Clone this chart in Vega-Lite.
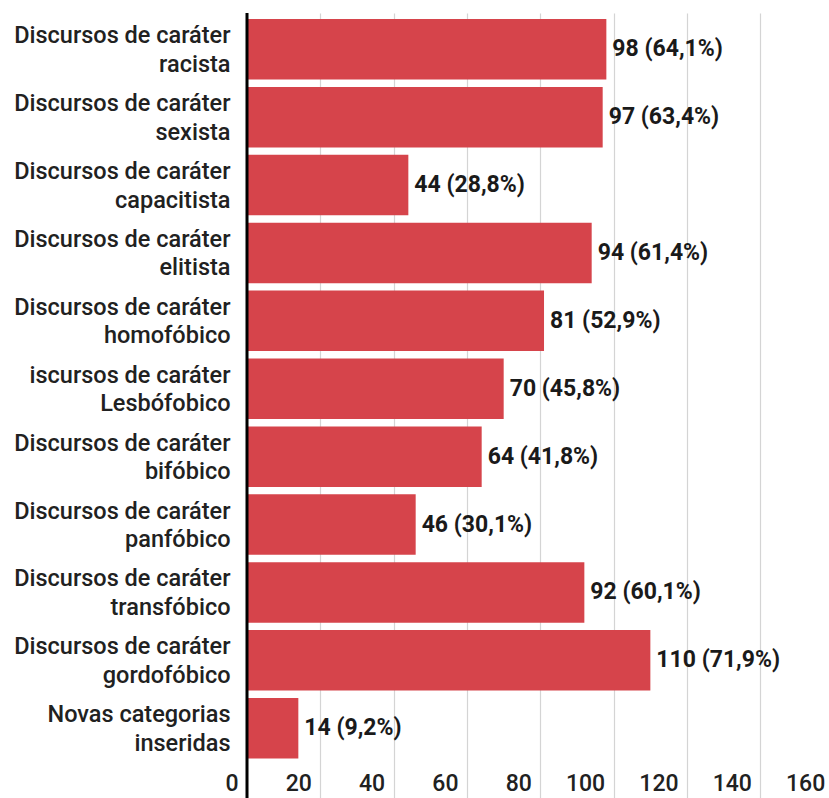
{
  "$schema": "https://vega.github.io/schema/vega-lite/v6.json",
  "autosize": "none",
  "width": 582,
  "height": 785,
  "padding": {"left": 247, "top": 13, "right": 0, "bottom": 0},
  "background": "white",
  "config": {
    "view": {"stroke": null},
    "font": "Roboto"
  },
  "data": {
    "values": [
      {"cat": "Discursos de caráter|racista", "n": 98, "pct": "64,1%"},
      {"cat": "Discursos de caráter|sexista", "n": 97, "pct": "63,4%"},
      {"cat": "Discursos de caráter|capacitista", "n": 44, "pct": "28,8%"},
      {"cat": "Discursos de caráter|elitista", "n": 94, "pct": "61,4%"},
      {"cat": "Discursos de caráter|homofóbico", "n": 81, "pct": "52,9%"},
      {"cat": "iscursos de caráter|Lesbófobico", "n": 70, "pct": "45,8%"},
      {"cat": "Discursos de caráter|bifóbico", "n": 64, "pct": "41,8%"},
      {"cat": "Discursos de caráter|panfóbico", "n": 46, "pct": "30,1%"},
      {"cat": "Discursos de caráter|transfóbico", "n": 92, "pct": "60,1%"},
      {"cat": "Discursos de caráter|gordofóbico", "n": 110, "pct": "71,9%"},
      {"cat": "Novas categorias|inseridas", "n": 14, "pct": "9,2%"}
    ]
  },
  "transform": [
    {"calculate": "datum.n + ' (' + datum.pct + ')'", "as": "label"}
  ],
  "layer": [
    {
      "mark": {"type": "bar", "color": "#d6444b"},
      "encoding": {
        "y": {
          "field": "cat",
          "type": "nominal",
          "sort": null,
          "title": null,
          "scale": {"paddingInner": 0.109, "paddingOuter": 0.335, "align": 0.132},
          "axis": {
            "domain": false,
            "ticks": false,
            "grid": false,
            "labelExpr": "split(datum.label, '|')",
            "labelAlign": "right",
            "labelBaseline": "middle",
            "labelOffset": -13,
            "labelPadding": 17,
            "labelFontSize": 23.5,
            "labelFontWeight": 500,
            "labelLineHeight": 28.5,
            "labelColor": "#212121",
            "labelLimit": 0
          }
        },
        "x": {
          "field": "n",
          "type": "quantitative",
          "title": null,
          "scale": {"domain": [0, 160], "range": [0, 586.7], "nice": false},
          "axis": {
            "values": [0, 20, 40, 60, 80, 100, 120, 140, 160],
            "orient": "bottom",
            "domain": false,
            "ticks": false,
            "grid": true,
            "gridColor": "#d4d4d4",
            "gridWidth": 1.2,
            "labelAlign": "right",
            "labelBaseline": "middle",
            "labelPadding": -15,
            "labelOffset": -9,
            "labelFlush": false,
            "labelOverlap": false,
            "labelFontSize": 23,
            "labelFontWeight": 500,
            "labelColor": "#212121"
          }
        }
      }
    },
    {
      "mark": {"type": "text", "align": "left", "baseline": "middle", "dx": 6, "fontSize": 23, "fontWeight": "bold", "color": "#1a1a1a"},
      "encoding": {
        "y": {"field": "cat", "type": "nominal", "sort": null},
        "x": {"field": "n", "type": "quantitative"},
        "text": {"field": "label"}
      }
    },
    {
      "data": {"values": [{"zero": 0}]},
      "mark": {"type": "rule", "color": "black", "strokeWidth": 3},
      "encoding": {
        "x": {"field": "zero", "type": "quantitative"}
      }
    }
  ]
}
